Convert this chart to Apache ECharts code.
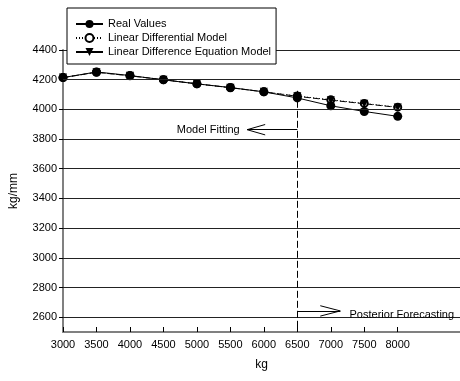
<!DOCTYPE html>
<html>
<head>
<meta charset="utf-8">
<script src="https://cdn.jsdelivr.net/npm/echarts@6/dist/echarts.min.js"></script>
<style>html,body{margin:0;padding:0;background:#fff;}#c{width:460px;height:381px;}</style>
</head>
<body>
<div id="c"></div>
<script>
var xValues = [3000, 3500, 4000, 4500, 5000, 5500, 6000, 6500, 7000, 7500, 8000];
var realValues = [4214, 4252, 4228, 4199, 4172, 4147, 4118, 4077, 4024, 3986, 3953];
var diffModel = [4214, 4250, 4226, 4200, 4172, 4146, 4118, 4090, 4064, 4040, 4015];
var diffEqModel = [4214, 4250, 4226, 4200, 4172, 4146, 4118, 4088, 4062, 4038, 4013];
var xTickLabels = [3000, 3500, 4000, 4500, 5000, 5500, 6000, 6500, 7000, 7500, 8000];
var yTickLabels = [2600, 2800, 3000, 3200, 3400, 3600, 3800, 4000, 4200, 4400];
var splitX = 6500;
var fitArrowY = 3863, fitArrowTip = 5750;
var foreArrowY = 2642, foreArrowTip = 7142;

function pairs(ys){ return xValues.map(function(x,i){return [x, ys[i]];}); }
var font = 'Liberation Sans, Arial, sans-serif';
var chart = echarts.init(document.getElementById('c'), null, {renderer:'canvas'});
chart.setOption({
  animation: false,
  grid: {left: 62, right: 0, top: 50, bottom: 49, containLabel: false},
  legend: {
    orient: 'vertical', left: 67, top: 8, z: 100,
    backgroundColor: '#fff', borderColor: '#000', borderWidth: 1,
    padding: [9, 5, 5, 8], itemGap: 0, itemWidth: 27, itemHeight: 10,
    textStyle: {fontFamily: font, fontSize: 11, color: '#000', lineHeight: 14},
    data: [
      {name: 'Real Values'},
      {name: 'Linear Differential Model', lineStyle: {type: [1, 2]}},
      {name: 'Linear Difference Equation Model', lineStyle: {type: 'solid'}}
    ]
  },
  xAxis: {
    type: 'value', min: 3000, max: 8930, interval: 500,
    name: 'kg', nameLocation: 'middle', nameGap: 27,
    nameTextStyle: {fontFamily: font, fontSize: 12, color: '#000'},
    axisLine: {show: true, lineStyle: {color: '#808080', width: 2}},
    axisTick: {show: true, inside: true, length: 5, lineStyle: {color: '#000'}, customValues: xTickLabels},
    axisLabel: {fontFamily: font, fontSize: 11, color: '#000', margin: 7, customValues: xTickLabels,
      formatter: function(v){ return String(v); }},
    splitLine: {show: false}
  },
  yAxis: {
    type: 'value', min: 2500, max: 4400, interval: 100,
    name: 'kg/mm', nameLocation: 'middle', nameGap: 43,
    nameTextStyle: {fontFamily: font, fontSize: 12, color: '#000'},
    axisLine: {show: true, lineStyle: {color: '#808080', width: 2}},
    axisTick: {show: true, inside: false, length: 4, lineStyle: {color: '#000'}, customValues: yTickLabels},
    axisLabel: {fontFamily: font, fontSize: 11, color: '#000', margin: 6, customValues: yTickLabels,
      formatter: function(v){ return String(v); }},
    splitLine: {show: false}
  },
  series: [
    {
      name: 'Linear Differential Model', type: 'line', data: pairs(diffModel),
      symbol: 'emptyCircle', symbolSize: 7, z: 2,
      lineStyle: {color: '#000', width: 1, type: [1, 2]},
      itemStyle: {color: '#000', borderColor: '#000', borderWidth: 1}
    },
    {
      name: 'Linear Difference Equation Model', type: 'line', data: pairs(diffEqModel),
      symbol: 'triangle', symbolRotate: 180, symbolSize: 8, z: 3,
      lineStyle: {color: '#000', width: 1, type: [6, 3]},
      itemStyle: {color: '#000'}
    },
    {
      name: 'Real Values', type: 'line', data: pairs(realValues),
      symbol: 'circle', symbolSize: 9, z: 4,
      lineStyle: {color: '#000', width: 1},
      itemStyle: {color: '#000'},
      markLine: {
        silent: true, symbol: ['none', 'none'], animation: false,
        label: {show: false},
        lineStyle: {color: '#222', width: 1, type: 'solid'},
        data: yTickLabels.map(function(v){ return [{coord: [3000, v]}, {coord: [8930, v]}]; })
          .concat([
            [{coord: [splitX, 4125], lineStyle: {type: [7, 3], color: '#000'}}, {coord: [splitX, 2500]}],
            [{coord: [splitX, fitArrowY], lineStyle: {color: '#000'}}, {coord: [fitArrowTip, fitArrowY]}],
            [{coord: [fitArrowTip, fitArrowY], lineStyle: {color: '#000'}}, {coord: [6020, fitArrowY + 35]}],
            [{coord: [fitArrowTip, fitArrowY], lineStyle: {color: '#000'}}, {coord: [6020, fitArrowY - 35]}],
            [{coord: [splitX, foreArrowY], lineStyle: {color: '#000'}}, {coord: [foreArrowTip, foreArrowY]}],
            [{coord: [foreArrowTip, foreArrowY], lineStyle: {color: '#000'}}, {coord: [6843, foreArrowY + 35]}],
            [{coord: [foreArrowTip, foreArrowY], lineStyle: {color: '#000'}}, {coord: [6843, foreArrowY - 35]}]
          ])
      },
      markPoint: {
        silent: true, symbol: 'circle', symbolSize: 0,
        data: [
          {coord: [5640, fitArrowY], label: {show: true, formatter: 'Model Fitting', position: 'inside', align: 'right', verticalAlign: 'middle', fontFamily: font, fontSize: 11, color: '#000'}},
          {coord: [7280, 2618], label: {show: true, formatter: 'Posterior Forecasting', position: 'inside', align: 'left', verticalAlign: 'middle', fontFamily: font, fontSize: 11, color: '#000'}}
        ]
      }
    }
  ]
});
</script>
</body>
</html>
